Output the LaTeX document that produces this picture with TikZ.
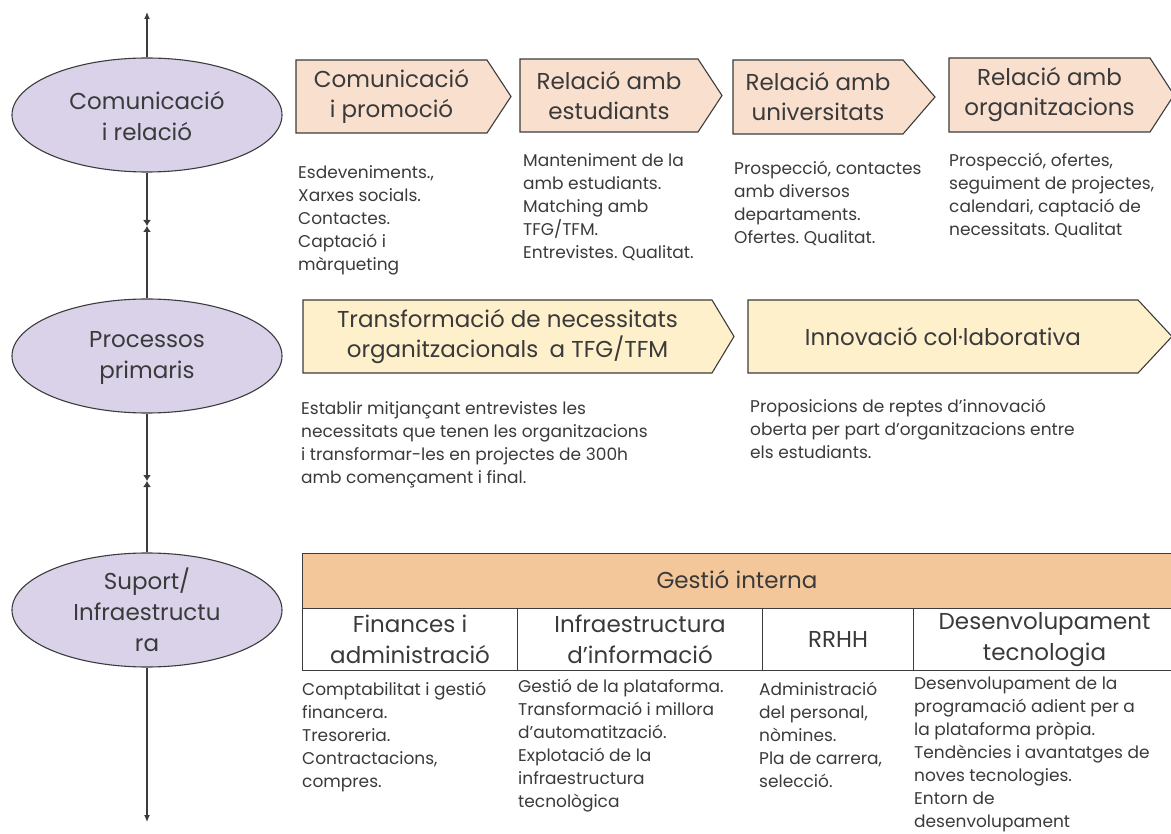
\documentclass[tikz,border=0pt]{standalone}
\usepackage{fontspec}
\setmainfont{Poppins}
\usetikzlibrary{shapes.geometric,arrows.meta}
\frenchspacing

\definecolor{ln}{HTML}{3C3C3C}
\definecolor{txt}{HTML}{3A3A3A}
\definecolor{lav}{HTML}{D9D2E9}
\definecolor{peach}{HTML}{F9DFCD}
\definecolor{cream}{HTML}{FFF0CC}
\definecolor{hdrfill}{HTML}{F4C79B}

% chevron box: name, left, top, body right, bottom, tip x, text, fill
\newcommand\chevshape[8]{%
  \draw[chev, fill=#8] (#2,#3) -- (#4,#3) -- (#6,{(#3+#5)/2}) -- (#4,#5) -- (#2,#5) -- cycle;
  \node[chevtext] (#1) at ({(#2+#4)/2},{(#3+#5)/2}) {#7};
}

\begin{document}
\begin{tikzpicture}[x=1pt,y=-1pt,
  every node/.style={text=txt},
  lvl/.style={ellipse, draw=ln, line width=1.1pt, fill=lav,
    minimum width=270pt, minimum height=114pt, inner sep=0pt},
  lvltext/.style={align=center, inner sep=0pt, font=\fontsize{23}{31}\selectfont},
  chev/.style={draw=ln, line width=1.1pt},
  chevtext/.style={align=center, inner sep=0pt, font=\fontsize{23}{30}\selectfont},
  desc/.style={anchor=north west, align=left, inner sep=0pt,
    font=\fontsize{17}{23}\selectfont, execute at begin node=\strut},
  hdr/.style={draw=ln, line width=1.1pt, fill=hdrfill, inner sep=0pt,
    font=\fontsize{23}{30}\selectfont},
  cell/.style={draw=ln, line width=1.1pt, anchor=north west, inner sep=0pt,
    align=center, font=\fontsize{23}{31}\selectfont},
  axis/.style={draw=ln, line width=1.1pt},
  axisarrow/.style={axis, -{Latex[length=7pt,width=6pt]}},
  midarrow/.style={axis, -{Latex[length=6pt,width=8pt]}},
]
\useasboundingbox (0,0) rectangle (1171,834);

% levels on the vertical axis
\node[lvl] (e1) at (147,115) {};
\node[lvltext] (e1t) at (147,116) {Comunicació\\i relació};
\node[lvl] (e2) at (147,356) {};
\node[lvltext] (e2t) at (147,358) {Processos\\primaris};
\node[lvl] (e3) at (147,610) {};
\node[lvltext] (e3t) at (147,610) {Suport/\\Infraestructu\\ra};

\coordinate (top) at (147,12);
\coordinate (bot) at (147,822);
\coordinate (m1) at (147,226);
\coordinate (m2) at (147,481);

\draw[axisarrow] (e1.north) -- (top);
\draw[midarrow] (e1.south) -- (m1);
\draw[midarrow] (e2.north) -- (m1);
\draw[midarrow] (e2.south) -- (m2);
\draw[midarrow] (e3.north) -- (m2);
\draw[axisarrow] (e3.south) -- (bot);

% communication and relations
\chevshape{c1}{296}{60}{487}{133}{511}{Comunicació\\i promoció}{peach}
\chevshape{c2}{520}{59}{698}{132}{722}{Relació amb\\estudiants}{peach}
\chevshape{c3}{733}{60}{903}{134}{935}{Relació amb\\universitats}{peach}
\chevshape{c4}{949}{58}{1150}{132}{1174}{Relació amb\\organitzacions}{peach}

\node[desc] (d1) at (298,165) {Esdeveniments.,\\Xarxes socials.\\Contactes.\\Captació i\\màrqueting};
\node[desc] (d2) at (523,153) {Manteniment de la\\amb estudiants.\\Matching amb\\TFG/TFM.\\Entrevistes. Qualitat.};
\node[desc] (d3) at (734,161) {Prospecció, contactes\\amb diversos\\departaments.\\Ofertes. Qualitat.};
\node[desc] (d4) at (949,153) {Prospecció, ofertes,\\seguiment de projectes,\\calendari, captació de\\necessitats. Qualitat};

% primary processes
\chevshape{p1}{303}{300}{712}{373}{734}{Transformació de necessitats\\organitzacionals\enspace a TFG/TFM}{cream}
\chevshape{p2}{748}{300}{1138}{373}{1172}{Innovació col·laborativa}{cream}

\node[desc] (pa) at (301,401) {Establir mitjançant entrevistes les\\necessitats que tenen les organitzacions\\i transformar-les en projectes de 300h\\amb començament i final.};
\node[desc] (pb) at (750,399) {Proposicions de reptes d’innovació\\oberta per part d’organitzacions entre\\els estudiants.};

% support and infrastructure
\node[hdr, anchor=north west, minimum width=873pt, minimum height=55pt] (gi) at (302,553) {};
\node[chevtext] (git) at (737,580) {Gestió interna};
\node[cell, minimum width=215pt, minimum height=62pt] (fin) at (302,608) {Finances i\\administració};
\node[cell, minimum width=245pt, minimum height=62pt] (inf) at (517,608) {Infraestructura\\d’informació};
\node[cell, minimum width=151pt, minimum height=62pt] (rh) at (762,608) {RRHH};
\node[cell, minimum width=262pt, minimum height=62pt] (dev) at (913,608) {Desenvolupament\\tecnologia};

\node[desc] (s1) at (302,682) {Comptabilitat i gestió\\financera.\\Tresoreria.\\Contractacions,\\compres.};
\node[desc] (s2) at (518,679) {Gestió de la plataforma.\\Transformació i millora\\d’automatització.\\Explotació de la\\infraestructura\\tecnològica};
\node[desc] (s3) at (759,682) {Administració\\del personal,\\nòmines.\\Pla de carrera,\\selecció.};
\node[desc] (s4) at (914,677) {Desenvolupament de la\\programació adient per a\\la plataforma pròpia.\\Tendències i avantatges de\\noves tecnologies.\\Entorn de\\desenvolupament};
\end{tikzpicture}
\end{document}
